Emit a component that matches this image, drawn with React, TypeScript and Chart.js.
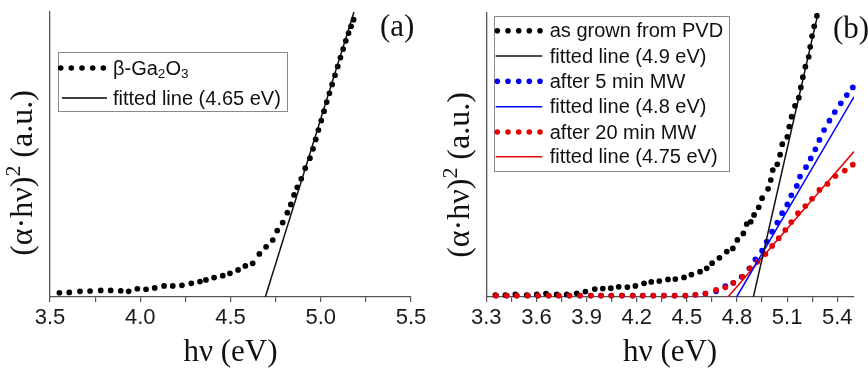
import React, { useEffect, useRef } from 'react';
import { Chart, registerables } from 'chart.js';

Chart.register(...registerables);

const SANS = "'Liberation Sans', Arial, sans-serif";
const SERIF = "'Liberation Serif', 'Times New Roman', serif";

// ---------- Panel (a) data ----------
const aX = [3.552, 3.607, 3.666, 3.722, 3.781, 3.836, 3.892, 3.936, 3.984, 4.032, 4.080, 4.132, 4.180, 4.231, 4.283, 4.331, 4.364, 4.409, 4.457, 4.497, 4.542, 4.582, 4.623, 4.660, 4.697, 4.734, 4.759, 4.789, 4.815, 4.834, 4.852, 4.870, 4.892, 4.914, 4.940, 4.957, 4.972, 4.987, 5.003, 5.018, 5.033, 5.048, 5.063, 5.079, 5.094, 5.109, 5.124, 5.139, 5.154, 5.168, 5.182];
const aY = [1.5, 1.6, 2.0, 2.1, 2.3, 2.3, 2.2, 2.0, 2.9, 2.7, 3.2, 3.9, 3.9, 4.1, 4.8, 5.4, 6.0, 6.8, 7.5, 8.3, 9.5, 10.9, 11.8, 15.1, 17.6, 20.0, 23.3, 26.1, 29.6, 32.5, 35.8, 38.5, 41.5, 45.2, 48.7, 52.0, 55.3, 58.6, 61.9, 65.2, 68.4, 71.5, 74.6, 77.8, 80.9, 84.0, 87.0, 89.9, 92.6, 95.0, 97.3];
const aFitX = [4.693, 5.184];
const aFitY = [0, 100];

// ---------- Panel (b) data ----------
const bBlackX = [3.354, 3.414, 3.474, 3.542, 3.602, 3.657, 3.721, 3.781, 3.841, 3.893, 3.949, 3.997, 4.045, 4.092, 4.144, 4.192, 4.244, 4.287, 4.335, 4.387, 4.431, 4.483, 4.527, 4.579, 4.619, 4.651, 4.695, 4.739, 4.775, 4.802, 4.838, 4.858, 4.882, 4.902, 4.930, 4.950, 4.986, 5.002, 5.014, 5.041, 5.058, 5.071, 5.101, 5.113, 5.127, 5.147, 5.170, 5.182, 5.194, 5.209, 5.229, 5.238, 5.249, 5.262, 5.278];
const bBlackY = [0.7, 0.7, 0.9, 0.7, 0.9, 1.2, 0.9, 0.9, 1.3, 1.9, 2.8, 3.0, 3.1, 3.6, 3.5, 3.9, 4.8, 5.3, 5.6, 6.2, 6.3, 6.9, 7.9, 8.9, 10.1, 11.9, 13.8, 16.0, 17.1, 20.1, 22.4, 25.7, 26.5, 28.9, 31.6, 34.8, 38.1, 41.2, 44.7, 46.7, 50.1, 53.8, 56.4, 60.0, 63.5, 67.3, 70.2, 73.8, 77.4, 81.1, 84.6, 88.1, 91.9, 95.3, 99.0];

const bBlueX = [3.358, 3.422, 3.482, 3.548, 3.609, 3.673, 3.733, 3.797, 3.861, 3.925, 3.986, 4.048, 4.112, 4.176, 4.236, 4.299, 4.363, 4.427, 4.491, 4.551, 4.611, 4.675, 4.730, 4.778, 4.828, 4.874, 4.910, 4.950, 4.978, 5.010, 5.041, 5.070, 5.101, 5.125, 5.158, 5.177, 5.213, 5.241, 5.269, 5.293, 5.321, 5.353, 5.385, 5.421, 5.457, 5.493];
const bBlueY = [0.5, 0.5, 0.5, 0.5, 0.5, 0.5, 0.5, 0.5, 0.5, 0.5, 0.5, 0.5, 0.5, 0.5, 0.5, 0.5, 0.5, 0.5, 0.5, 0.8, 1.2, 2.0, 3.8, 5.0, 7.1, 10.1, 13.3, 16.3, 19.5, 23.0, 26.2, 29.5, 32.6, 35.8, 39.1, 42.4, 45.7, 48.8, 52.0, 55.3, 58.8, 62.1, 65.1, 68.2, 71.1, 73.8];

const bRedX = [3.358, 3.422, 3.482, 3.548, 3.609, 3.673, 3.733, 3.797, 3.861, 3.925, 3.986, 4.048, 4.112, 4.176, 4.236, 4.299, 4.363, 4.427, 4.491, 4.551, 4.611, 4.675, 4.730, 4.778, 4.834, 4.878, 4.922, 4.970, 5.010, 5.050, 5.089, 5.125, 5.165, 5.209, 5.249, 5.293, 5.341, 5.389, 5.445, 5.493];
const bRedY = [0.5, 0.5, 0.5, 0.5, 0.5, 0.5, 0.5, 0.5, 0.5, 0.5, 0.5, 0.5, 0.5, 0.5, 0.5, 0.5, 0.5, 0.5, 0.5, 0.8, 1.2, 2.5, 3.4, 5.0, 7.1, 10.1, 12.4, 15.1, 18.0, 20.7, 23.6, 26.4, 29.5, 32.0, 34.6, 37.7, 39.8, 42.6, 44.5, 46.6];

const bFitBlackX = [4.898, 5.285];
const bFitBlackY = [0, 100];
const bFitBlueX = [4.798, 5.5];
const bFitBlueY = [0, 70.5];
const bFitRedX = [4.746, 5.5];
const bFitRedY = [0, 51.2];

// ---------- helpers ----------
type Seg = { t: string; s?: 'sub' | 'sup' };
type Row = { segs: Seg[]; color: string; kind: 'dots' | 'line' };
type Decor = {
  yTitle: { x: number; y: number; size: number; segs: Seg[] };
  tag: { text: string; x: number; y: number; size: number };
  legend: { x: number; y: number; w: number; h: number; rowsY: number[]; dotXs: number[]; dotR: number; lineX0: number; lineX1: number; textX: number; size: number; rows: Row[] };
};

const pts = (xs: number[], ys: number[]) => xs.map((x, i) => ({ x, y: ys[i] }));

function drawRich(ctx: CanvasRenderingContext2D, segs: Seg[], x: number, y: number, size: number, family: string, align: 'left' | 'center') {
  const widths = segs.map((s) => {
    ctx.font = `${s.s ? size * 0.68 : size}px ${family}`;
    return ctx.measureText(s.t).width;
  });
  const total = widths.reduce((a, b) => a + b, 0);
  let cx = align === 'center' ? x - total / 2 : x;
  ctx.textAlign = 'left';
  ctx.textBaseline = 'middle';
  segs.forEach((s, i) => {
    ctx.font = `${s.s ? size * 0.68 : size}px ${family}`;
    const dy = s.s === 'sub' ? size * 0.25 : s.s === 'sup' ? -size * 0.3 : 0;
    ctx.fillText(s.t, cx, y + dy);
    cx += widths[i];
  });
}

function makeDecor(d: Decor) {
  return {
    id: 'decor',
    afterDraw(chart: any) {
      const ctx: CanvasRenderingContext2D = chart.ctx;
      ctx.save();
      const L = d.legend;
      ctx.fillStyle = '#ffffff';
      ctx.fillRect(L.x, L.y, L.w, L.h);
      ctx.strokeStyle = '#8a8a8a';
      ctx.lineWidth = 1;
      ctx.strokeRect(Math.round(L.x) + 0.5, Math.round(L.y) + 0.5, Math.round(L.w), Math.round(L.h));
      L.rows.forEach((row, i) => {
        const y = L.rowsY[i];
        if (row.kind === 'dots') {
          ctx.fillStyle = row.color;
          L.dotXs.forEach((x) => {
            ctx.beginPath();
            ctx.arc(x, y, L.dotR, 0, Math.PI * 2);
            ctx.fill();
          });
        } else {
          ctx.strokeStyle = row.color;
          ctx.lineWidth = 1.5;
          ctx.beginPath();
          ctx.moveTo(L.lineX0, y);
          ctx.lineTo(L.lineX1, y);
          ctx.stroke();
        }
        ctx.fillStyle = '#111111';
        drawRich(ctx, row.segs, L.textX, y + 1, L.size, SANS, 'left');
      });
      ctx.fillStyle = '#111111';
      ctx.font = `${d.tag.size}px ${SERIF}`;
      ctx.textAlign = 'left';
      ctx.textBaseline = 'middle';
      ctx.fillText(d.tag.text, d.tag.x, d.tag.y);
      ctx.translate(d.yTitle.x, d.yTitle.y);
      ctx.rotate(-Math.PI / 2);
      drawRich(ctx, d.yTitle.segs, 0, 0, d.yTitle.size, SERIF, 'center');
      ctx.restore();
    },
  };
}

const Y_TITLE: Seg[] = [{ t: '(α·hν)' }, { t: '2', s: 'sup' }, { t: ' (a.u.)' }];
const AXIS_COLOR = '#555555';

function baseOptions(xMin: number, xMax: number, step: number, isLabel: (v: number) => boolean, pad: { top: number; right: number }, yWidth: number) {
  return {
    responsive: false,
    maintainAspectRatio: false,
    devicePixelRatio: 1,
    animation: false as const,
    events: [] as any[],
    layout: { padding: { left: 0, right: pad.right, top: pad.top, bottom: 0 } },
    plugins: { legend: { display: false }, tooltip: { enabled: false }, title: { display: false } },
    scales: {
      x: {
        type: 'linear' as const,
        min: xMin,
        max: xMax,
        afterFit: (s: any) => { s.height = 75; },
        ticks: {
          stepSize: step,
          autoSkip: false,
          includeBounds: false,
          maxRotation: 0,
          minRotation: 0,
          padding: 3,
          color: '#1a1a1a',
          font: { family: SANS, size: 22 },
          callback: (v: any) => (isLabel(Number(v)) ? Number(v).toFixed(1) : ''),
        },
        grid: { display: true, drawOnChartArea: false, drawTicks: true, tickLength: 5, color: AXIS_COLOR, lineWidth: 1.2 },
        border: { display: true, color: AXIS_COLOR, width: 1.3 },
        title: { display: true, text: 'hν (eV)', color: '#111111', font: { family: SERIF, size: 31 }, padding: { top: 0, bottom: 1 } },
      },
      y: {
        type: 'linear' as const,
        min: 0,
        max: 100,
        afterFit: (s: any) => { s.width = yWidth; },
        ticks: { display: false },
        grid: { display: false },
        border: { display: true, color: AXIS_COLOR, width: 1.3 },
        title: { display: false },
      },
    },
  };
}

const dots = (data: any[], color: string) => ({ data, backgroundColor: color, borderColor: color, borderWidth: 0, pointRadius: 2.85, pointHoverRadius: 2.85, showLine: false, clip: false as any });
const fit = (data: any[], color: string) => ({ data, borderColor: color, backgroundColor: color, borderWidth: 1.5, pointRadius: 0, showLine: true, fill: false });

function buildA() {
  const decor = makeDecor({
    yTitle: { x: 23.5, y: 173, size: 32, segs: Y_TITLE },
    tag: { text: '(a)', x: 380, y: 28, size: 31 },
    legend: {
      x: 58, y: 52, w: 229, h: 59, rowsY: [68, 98], dotXs: [60.7, 71.3, 82, 92.7, 103.3], dotR: 2.8, lineX0: 62, lineX1: 107, textX: 113, size: 20,
      rows: [
        { segs: [{ t: 'β-Ga' }, { t: '2', s: 'sub' }, { t: 'O' }, { t: '3', s: 'sub' }], color: '#000000', kind: 'dots' },
        { segs: [{ t: 'fitted line (4.65 eV)' }], color: '#000000', kind: 'line' },
      ],
    },
  });
  return {
    type: 'scatter' as const,
    data: {
      datasets: [
        fit(pts(aFitX, aFitY), '#111111'),
        dots(pts(aX, aY), '#000000'),
      ],
    },
    options: baseOptions(3.5, 5.5, 0.25, (v) => Math.abs(v * 2 - Math.round(v * 2)) < 1e-6, { top: 12, right: 23 }, 50),
    plugins: [decor],
  };
}

function buildB() {
  const decor = makeDecor({
    yTitle: { x: 27, y: 175, size: 32, segs: Y_TITLE },
    tag: { text: '(b)', x: 399, y: 30, size: 31 },
    legend: {
      x: 60.3, y: 16, w: 235.4, h: 155, rowsY: [30.7, 56, 81.3, 106.7, 132, 156.7], dotXs: [63.3, 74, 84.7, 95.3, 106], dotR: 2.8, lineX0: 61.7, lineX1: 108.3, textX: 115.7, size: 20,
      rows: [
        { segs: [{ t: 'as grown from PVD' }], color: '#000000', kind: 'dots' },
        { segs: [{ t: 'fitted line (4.9 eV)' }], color: '#111111', kind: 'line' },
        { segs: [{ t: 'after 5 min MW' }], color: '#0000ff', kind: 'dots' },
        { segs: [{ t: 'fitted line (4.8 eV)' }], color: '#0000ff', kind: 'line' },
        { segs: [{ t: 'after 20 min MW' }], color: '#e60000', kind: 'dots' },
        { segs: [{ t: 'fitted line (4.75 eV)' }], color: '#e60000', kind: 'line' },
      ],
    },
  });
  return {
    type: 'scatter' as const,
    data: {
      datasets: [
        fit(pts(bFitBlackX, bFitBlackY), '#111111'),
        fit(pts(bFitBlueX, bFitBlueY), '#0000ff'),
        fit(pts(bFitRedX, bFitRedY), '#e60000'),
        dots(pts(bRedX, bRedY), '#e60000'),
        dots(pts(bBlueX, bBlueY), '#0000ff'),
        dots(pts(bBlackX, bBlackY), '#000000'),
      ],
    },
    options: baseOptions(3.3, 5.5, 0.15, (v) => { const k = (v - 3.3) / 0.3; return Math.abs(k - Math.round(k)) < 1e-6; }, { top: 13, right: 14 }, 52.3),
    plugins: [decor],
  };
}

function Panel({ left, build }: { left: number; build: () => any }) {
  const ref = useRef<HTMLCanvasElement>(null);
  useEffect(() => {
    if (!ref.current) return;
    const chart = new Chart(ref.current, build());
    return () => chart.destroy();
  }, []);
  return <canvas ref={ref} width={434} height={372} style={{ position: 'absolute', left, top: 0, width: 434, height: 372 }} />;
}

export default function App() {
  return (
    <div style={{ position: 'absolute', left: 0, top: 0, width: 868, height: 372, background: '#ffffff', overflow: 'hidden' }}>
      <Panel left={0} build={buildA} />
      <Panel left={434} build={buildB} />
    </div>
  );
}
